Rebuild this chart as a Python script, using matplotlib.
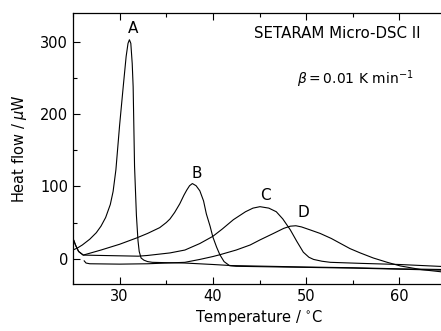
import matplotlib
matplotlib.use("Agg")
import matplotlib.pyplot as plt
from matplotlib.ticker import MultipleLocator

plt.rcParams['font.family'] = ['DejaVu Sans']
plt.rcParams['mathtext.fontset'] = 'dejavusans'

# Curve A
a_t = [25.0, 25.5, 26.0, 26.8, 27.5, 28.0, 28.5, 29.0, 29.3, 29.6, 30.0, 30.4, 30.7,
       30.9, 31.05, 31.2, 31.35, 31.45, 31.6, 31.8, 31.97, 32.1, 32.3, 32.6, 33.0,
       33.5, 35.0, 37.0, 40.0, 42.0, 46.0, 50.0, 55.0, 60.0, 65.0]
a_v = [12, 15, 19, 27, 36, 45, 57, 75, 93, 123, 185, 240, 280,
       298, 303, 298, 270, 238, 128, 60, 25, 10, 1, -2, -4,
       -5, -5.5, -6, -8, -9.5, -10.5, -11.5, -12.5, -14, -15]

# Curve B
b_t = [25.0, 25.3, 25.6, 26.1, 28.0, 30.0, 31.8, 33.0, 34.3, 35.0, 35.4, 35.9, 36.45,
       36.9, 37.2, 37.5, 37.8, 38.2, 38.6, 39.0, 39.3, 39.7, 40.0, 40.4, 40.75,
       41.2, 41.8, 42.5, 45.0, 50.0, 55.0, 60.0, 65.0]
b_v = [28, 18, 10, 5, 12, 20, 28.6, 35, 43, 50, 55, 64, 76,
       88, 95, 101, 104, 101, 94, 80, 62, 45, 30, 16, 5.5,
       -4, -9.7, -10.5, -11, -12, -13, -14.5, -16]

# Curve C
c_t = [25.0, 25.3, 25.6, 26.1, 28.0, 30.0, 32.0, 33.0, 35.4, 37.0, 38.6, 40.0, 41.0,
       42.2, 43.5, 44.3, 45.05, 46.0, 46.8, 47.5, 48.3, 49.0, 49.7, 50.3, 50.8,
       51.7, 52.6, 56.0, 60.0, 65.0]
c_v = [28, 18, 10, 5, 4.5, 4, 3.5, 4.5, 8, 12, 21, 31, 41,
       54, 65, 70, 72, 70, 65, 55, 40, 24, 9, 2, -1,
       -3.5, -5, -6.5, -8, -11]

# Curve D
d_t = [26.2, 26.4, 26.8, 30.0, 33.0, 35.0, 37.0, 38.6, 40.0, 40.75, 42.5, 44.0, 45.05,
       46.5, 47.6, 48.3, 48.9, 49.5, 50.4, 51.5, 52.7, 53.7, 54.7, 55.8, 57.2,
       58.7, 60.1, 62.3, 64.4, 65.0]
d_v = [-3, -6, -7, -7.5, -7, -6, -5, -1, 3, 5.5, 12, 19, 26,
       35, 42, 45, 45.6, 44, 40, 35, 28, 21, 14, 8, 1,
       -5, -10, -15, -18, -19]

labels = ['A', 'B', 'C', 'D']
label_t = [31.4, 38.25, 45.6, 49.7]
label_v = [318, 118, 88, 64]

fig = plt.figure(figsize=(4.41, 3.31), dpi=100)
ax = fig.add_axes([73/441, 47/331, 373/441, 271/331])

for t, v in [(a_t, a_v), (b_t, b_v), (c_t, c_v), (d_t, d_v)]:
    ax.plot(t, v, color='black', lw=0.8)

for lab, t, v in zip(labels, label_t, label_v):
    ax.text(t, v, lab, fontsize=11, ha='center', va='center')

ax.text(53.3, 312, 'SETARAM Micro-DSC II', fontsize=10.8, ha='center', va='center')
ax.text(55.3, 249, r'$\beta = 0.01$ K min$^{-1}$', fontsize=10, ha='center', va='center')

ax.set_xlim(25, 65)
ax.set_ylim(-35, 340)
ax.xaxis.set_major_locator(MultipleLocator(10))
ax.xaxis.set_minor_locator(MultipleLocator(5))
ax.yaxis.set_major_locator(MultipleLocator(100))
ax.yaxis.set_minor_locator(MultipleLocator(50))
ax.tick_params(which='both', direction='in', top=True, right=False, labelsize=10.5, width=0.8)
ax.tick_params(which='major', length=5)
ax.tick_params(which='minor', length=3)
for s in ax.spines.values():
    s.set_linewidth(0.9)
ax.set_xlabel('Temperature / $^{\\circ}$C', fontsize=10.5, labelpad=3)
ax.set_ylabel('Heat flow / $\\mu$W', fontsize=10.5, labelpad=8)

fig.savefig('out.png', dpi=100)
